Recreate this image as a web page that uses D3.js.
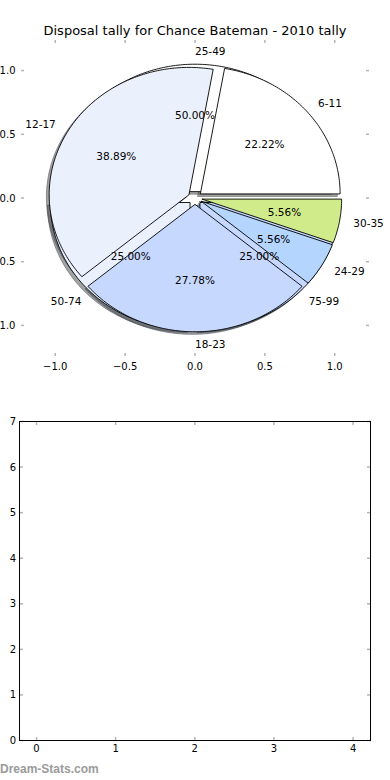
<!DOCTYPE html>
<html><head><meta charset="utf-8">
<script src="https://cdn.jsdelivr.net/npm/d3@7"></script>
<style>body{margin:0;background:#fff}svg{display:block;font-family:"DejaVu Sans",sans-serif}</style>
</head><body><svg id="c" width="390" height="780"></svg>
<script>
const title = "Disposal tally for Chance Bateman - 2010 tally";
const ageLabels = ['6-11','12-17','18-23','24-29','30-35'];
const ageValues = [4,7,5,1,1];
const ageColors = ['#ffffff','#eaf1fd','#c6d8fe','#b3d5fe','#d0ec8a'];
const pctLabels = ['25-49','50-74','75-99'];
const pctValues = [2,1,1];
const pctColors = ['#ffffff','#eaf1fd','#c6d8fe'];
const pieTicks = [-1.0,-0.5,0.0,0.5,1.0];
const barXTicks = [0,1,2,3,4];
const barYTicks = [0,1,2,3,4,5,6,7];
const watermark = 'Dream-Stats.com';

const explode = 0.05;
const svg = d3.select('#c');
const fmtTick = v => d3.format('.1f')(v).replace('-', '\u2212');

// ---------- top: pie axes ----------
const x1 = d3.scaleLinear().domain([-1.245,1.245]).range([21,369]);
const y1 = d3.scaleLinear().domain([-1.24,1.24]).range([356,40]);

svg.append('text').attr('x',195).attr('y',34.5).attr('text-anchor','middle')
  .attr('font-size',13).attr('fill','#000').text(title);

const tickCol = '#b5b5b5';
const gT = svg.append('g');
pieTicks.forEach(t=>{
  gT.append('line').attr('x1',x1(t)).attr('x2',x1(t)).attr('y1',40).attr('y2',43).attr('stroke',tickCol).attr('stroke-width',1.5);
  gT.append('line').attr('x1',x1(t)).attr('x2',x1(t)).attr('y1',356).attr('y2',353).attr('stroke',tickCol).attr('stroke-width',1.5);
  gT.append('line').attr('y1',y1(t)).attr('y2',y1(t)).attr('x1',21).attr('x2',24).attr('stroke',tickCol).attr('stroke-width',1.5);
  gT.append('line').attr('y1',y1(t)).attr('y2',y1(t)).attr('x1',369).attr('x2',366).attr('stroke',tickCol).attr('stroke-width',1.5);
  gT.append('text').attr('x',x1(t)).attr('y',369.5).attr('text-anchor','middle').attr('font-size',10).text(fmtTick(t));
  gT.append('text').attr('x',15.5).attr('y',y1(t)).attr('dy','0.35em').attr('text-anchor','end').attr('font-size',10).text(fmtTick(t));
});

const pie = d3.pie().sort(null).value(d=>d);
function wedgePath(s, e, dx, dy){
  const n = Math.max(2, Math.ceil((e-s)/(Math.PI/180)));
  const pts = [[dx,dy]];
  for(let i=0;i<=n;i++){ const a = s+(e-s)*i/n; pts.push([dx+Math.cos(a), dy+Math.sin(a)]); }
  return d3.line().x(p=>x1(p[0])).y(p=>y1(p[1]))(pts)+'Z';
}
function build(values, labels, colors){
  return pie(values).map((a,i)=>{
    const mid = (a.startAngle+a.endAngle)/2;
    return {s:a.startAngle, e:a.endAngle, mid, dx:explode*Math.cos(mid), dy:explode*Math.sin(mid),
            label:labels[i], color:colors[i], pct:a.value/d3.sum(values)*100};
  });
}
const ageW = build(ageValues, ageLabels, ageColors);
const pctW = build(pctValues, pctLabels, pctColors);

const gS = svg.append('g');
[...pctW, ...ageW].forEach(w=>{
  const c = d3.rgb(w.color);
  const sc = d3.rgb(c.r*0.3, c.g*0.3, c.b*0.3);
  gS.append('path').attr('d', wedgePath(w.s,w.e,w.dx-0.02,w.dy-0.02))
    .attr('fill',sc).attr('fill-opacity',0.5).attr('stroke',sc).attr('stroke-opacity',0.5).attr('stroke-width',1);
});
const gW = svg.append('g');
[...pctW, ...ageW].forEach(w=>{
  gW.append('path').attr('d', wedgePath(w.s,w.e,w.dx,w.dy))
    .attr('fill',w.color).attr('stroke','#000').attr('stroke-width',0.9).attr('stroke-linejoin','miter');
});
const gL = svg.append('g').attr('font-size',10.5);
[...pctW, ...ageW].forEach(w=>{
  const xt = w.dx + 1.1*Math.cos(w.mid), yt = w.dy + 1.1*Math.sin(w.mid);
  gL.append('text').attr('x',x1(xt)).attr('y',y1(yt)).attr('dy','0.35em')
    .attr('text-anchor', xt > -1e-6 ? 'start' : 'end').text(w.label);
  const xp = w.dx + 0.6*Math.cos(w.mid), yp = w.dy + 0.6*Math.sin(w.mid);
  gL.append('text').attr('x',x1(xp)).attr('y',y1(yp)).attr('dy','0.35em')
    .attr('text-anchor','middle').text(d3.format('.2f')(w.pct)+'%');
});

// ---------- bottom: empty axes ----------
const x2 = d3.scaleLinear().domain([-0.215,4.22]).range([19.5,370.5]);
const y2 = d3.scaleLinear().domain([0,7]).range([740.5,421.5]);
const gB = svg.append('g');
barXTicks.forEach(t=>{
  gB.append('line').attr('x1',x2(t)).attr('x2',x2(t)).attr('y1',740.5).attr('y2',737).attr('stroke',tickCol).attr('stroke-width',1.5);
  gB.append('line').attr('x1',x2(t)).attr('x2',x2(t)).attr('y1',421.5).attr('y2',425).attr('stroke',tickCol).attr('stroke-width',1.5);
  gB.append('text').attr('x',x2(t)).attr('y',752).attr('text-anchor','middle').attr('font-size',10).text(t);
});
barYTicks.forEach(t=>{
  gB.append('line').attr('y1',y2(t)).attr('y2',y2(t)).attr('x1',19.5).attr('x2',23).attr('stroke',tickCol).attr('stroke-width',1.5);
  gB.append('line').attr('y1',y2(t)).attr('y2',y2(t)).attr('x1',370.5).attr('x2',367).attr('stroke',tickCol).attr('stroke-width',1.5);
  gB.append('text').attr('x',16).attr('y',y2(t)).attr('dy','0.35em').attr('text-anchor','end').attr('font-size',10).text(t);
});
gB.append('rect').attr('x',x2.range()[0]).attr('y',y2.range()[1]).attr('width',x2.range()[1]-x2.range()[0])
  .attr('height',y2.range()[0]-y2.range()[1]).attr('fill','none').attr('stroke','#000').attr('stroke-width',1);

svg.append('text').attr('x',0).attr('y',773).attr('font-family','"Liberation Sans",Arial,sans-serif')
  .attr('font-weight','bold').attr('font-size',12).attr('fill','#9a9a9a').text(watermark);
</script></body></html>
